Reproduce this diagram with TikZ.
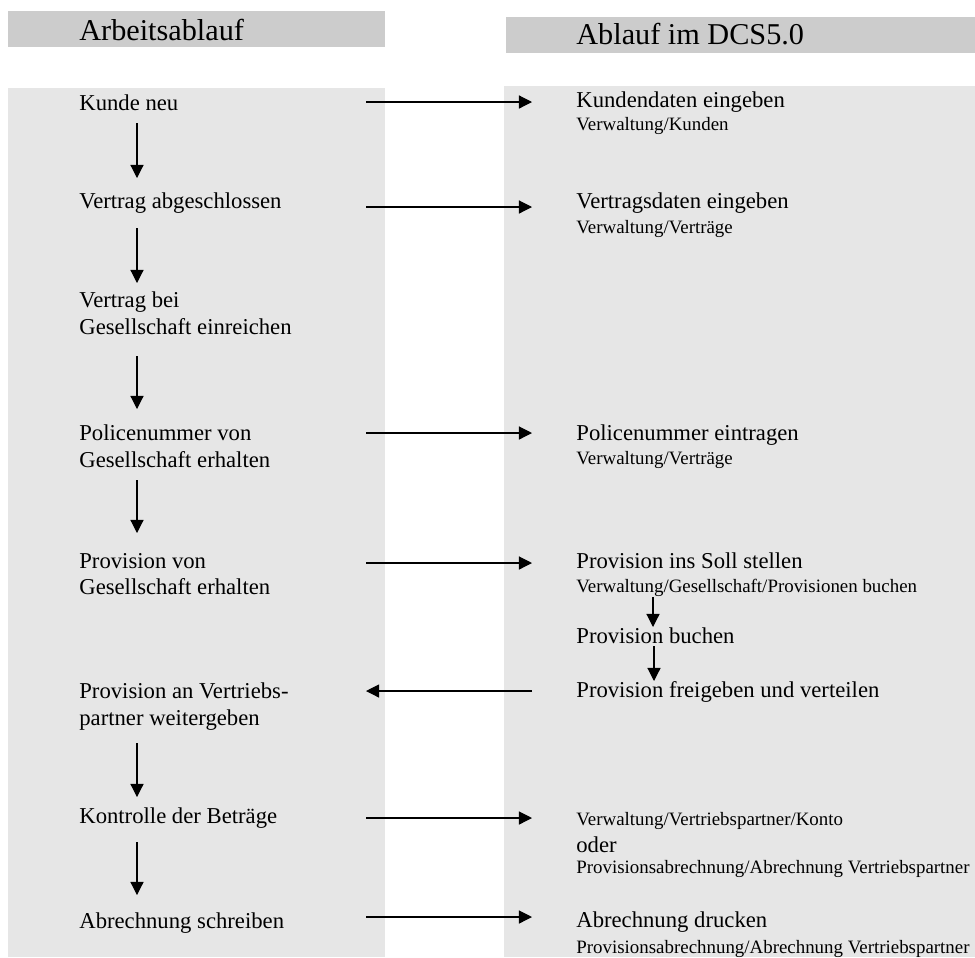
\documentclass[tikz,border=0pt]{standalone}
\usepackage{fontspec}
\setmainfont{Liberation Serif}
\usetikzlibrary{arrows.meta}
\definecolor{panelgray}{HTML}{E6E6E6}
\definecolor{headgray}{HTML}{CCCCCC}
\begin{document}
\begin{tikzpicture}[x=0.529pt,y=-0.529pt,
  txt/.style={anchor=base west,inner sep=0pt,font=\fontsize{12}{14}\selectfont},
  small/.style={anchor=base west,inner sep=0pt,font=\fontsize{10}{12}\selectfont},
  head/.style={anchor=base west,inner sep=0pt,font=\fontsize{16}{19}\selectfont},
  arr/.style={draw=black,line width=0.6pt,-{Triangle[length=6.9pt,width=6.9pt]}},
]
\useasboundingbox (0,0) rectangle (975,957);
% backgrounds
\fill[panelgray] (8,88) rectangle (385,957);
\fill[panelgray] (504,86) rectangle (975,957);
\fill[headgray] (8,11) rectangle (385,47);
\fill[headgray] (506,17) rectangle (975,53);
% headers
\node[head] (hl) at (79,40) {Arbeitsablauf};
\node[head] (hr) at (576,44) {Ablauf im DCS5.0};
% left column
\node[txt] (l1) at (79,110) {Kunde neu};
\node[txt] (l2) at (79,208) {Vertrag abgeschlossen};
\node[txt] (l3) at (79,307) {Vertrag bei};
\node[txt] (l3b) at (79,334) {Gesellschaft einreichen};
\node[txt] (l4) at (79,440) {Policenummer von};
\node[txt] (l4b) at (79,467) {Gesellschaft erhalten};
\node[txt] (l5) at (79,568) {Provision von};
\node[txt] (l5b) at (79,594) {Gesellschaft erhalten};
\node[txt] (l6) at (79,698) {Provision an Vertriebs-};
\node[txt] (l6b) at (79,725) {partner weitergeben};
\node[txt] (l7) at (79,823) {Kontrolle der Beträge};
\node[txt] (l8) at (79,928) {Abrechnung schreiben};
% right column
\node[txt] (r1) at (576,107) {Kundendaten eingeben};
\node[small] (r1b) at (576,130) {Verwaltung/Kunden};
\node[txt] (r2) at (576,208) {Vertragsdaten eingeben};
\node[small] (r2b) at (576,233) {Verwaltung/Verträge};
\node[txt] (r4) at (576,440) {Policenummer eintragen};
\node[small] (r4b) at (576,464) {Verwaltung/Verträge};
\node[txt] (r5) at (576,568) {Provision ins Soll stellen};
\node[small] (r5b) at (576,592) {Verwaltung/Gesellschaft/Provisionen buchen};
\node[txt] (r5c) at (576,643) {Provision buchen};
\node[txt] (r6) at (576,697) {Provision freigeben und verteilen};
\node[small] (r7) at (576,825) {Verwaltung/Vertriebspartner/Konto};
\node[txt] (r7b) at (576,852) {oder};
\node[small] (r7c) at (576,873) {Provisionsabrechnung/Abrechnung Vertriebspartner};
\node[txt] (r8) at (576,927) {Abrechnung drucken};
\node[small] (r8b) at (576,953) {Provisionsabrechnung/Abrechnung Vertriebspartner};
% connector end points
\coordinate (v1s) at (137,123); \coordinate (v1e) at (137,178);
\coordinate (v2s) at (137,228); \coordinate (v2e) at (137,283);
\coordinate (v3s) at (137,356); \coordinate (v3e) at (137,409);
\coordinate (v4s) at (137,480); \coordinate (v4e) at (137,533);
\coordinate (v5s) at (137,743); \coordinate (v5e) at (137,797);
\coordinate (v6s) at (137,842); \coordinate (v6e) at (137,895);
\coordinate (w1s) at (653,597); \coordinate (w1e) at (653,627);
\coordinate (w2s) at (654,646); \coordinate (w2e) at (654,681);
\coordinate (h1s) at (366,102); \coordinate (h1e) at (532,102);
\coordinate (h2s) at (366,207); \coordinate (h2e) at (532,207);
\coordinate (h4s) at (366,433); \coordinate (h4e) at (532,433);
\coordinate (h5s) at (366,563); \coordinate (h5e) at (532,563);
\coordinate (h6s) at (532,691); \coordinate (h6e) at (366,691);
\coordinate (h7s) at (366,818); \coordinate (h7e) at (532,818);
\coordinate (h8s) at (366,917); \coordinate (h8e) at (532,917);
% connectors
\foreach \a in {v1,v2,v3,v4,v5,v6,w1,w2,h1,h2,h4,h5,h6,h7,h8}
  \draw[arr] (\a s) -- (\a e);
\end{tikzpicture}
\end{document}
